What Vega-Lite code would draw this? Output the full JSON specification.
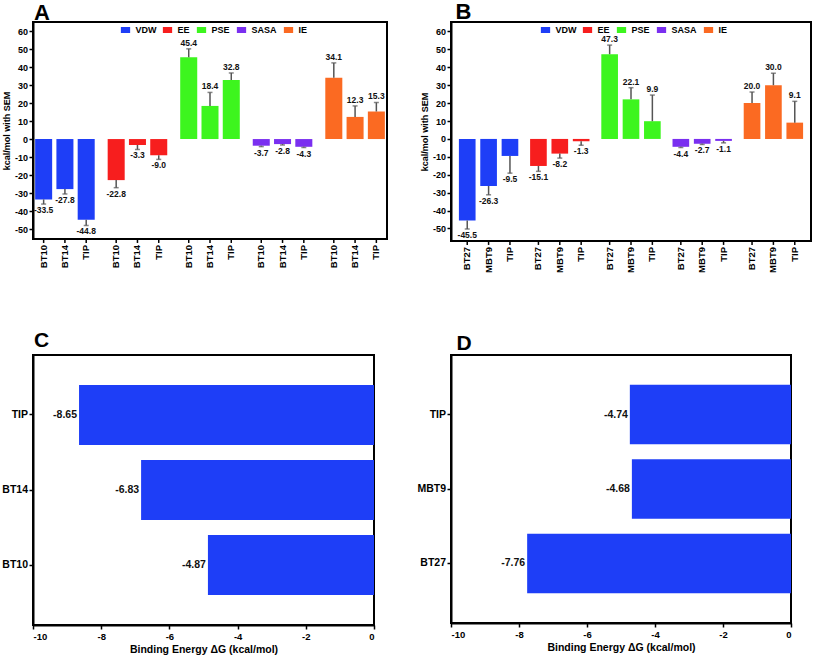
{
  "$schema": "https://vega.github.io/schema/vega-lite/v6.json",
  "padding": 0,
  "background": "white",
  "config": {
    "font": "Liberation Sans",
    "locale": {"number": {"decimal": ".", "thousands": ",", "grouping": [3], "currency": ["$", ""], "minus": "-"}},
    "view": {"stroke": "black", "strokeWidth": 2},
    "axis": {"grid": false, "domainColor": "black", "domainWidth": 2, "tickColor": "black", "tickWidth": 1.5, "tickSize": 4, "labelColor": "black", "titleColor": "black", "labelFontWeight": "bold", "titleFontWeight": "bold", "labelFont": "Liberation Sans", "titleFont": "Liberation Sans"},
    "title": {"font": "Liberation Sans", "fontWeight": "bold", "color": "black"}
  },
  "datasets": {
    "barsA": [
      {"term": "VDW", "ligand": "BT10", "value": -33.5, "errEnd": -36.1},
      {"term": "VDW", "ligand": "BT14", "value": -27.8, "errEnd": -30.5},
      {"term": "VDW", "ligand": "TIP", "value": -44.8, "errEnd": -48.0},
      {"term": "EE", "ligand": "BT10", "value": -22.8, "errEnd": -27.0},
      {"term": "EE", "ligand": "BT14", "value": -3.3, "errEnd": -5.8},
      {"term": "EE", "ligand": "TIP", "value": -9.0, "errEnd": -11.3},
      {"term": "PSE", "ligand": "BT10", "value": 45.4, "errEnd": 50.1},
      {"term": "PSE", "ligand": "BT14", "value": 18.4, "errEnd": 25.9},
      {"term": "PSE", "ligand": "TIP", "value": 32.8, "errEnd": 36.7},
      {"term": "SASA", "ligand": "BT10", "value": -3.7, "errEnd": -4.2},
      {"term": "SASA", "ligand": "BT14", "value": -2.8, "errEnd": -3.3},
      {"term": "SASA", "ligand": "TIP", "value": -4.3, "errEnd": -4.7},
      {"term": "IE", "ligand": "BT10", "value": 34.1, "errEnd": 42.3},
      {"term": "IE", "ligand": "BT14", "value": 12.3, "errEnd": 18.4},
      {"term": "IE", "ligand": "TIP", "value": 15.3, "errEnd": 20.3}
    ],
    "barsB": [
      {"term": "VDW", "ligand": "BT27", "value": -45.5, "errEnd": -50.3},
      {"term": "VDW", "ligand": "MBT9", "value": -26.3, "errEnd": -31.2},
      {"term": "VDW", "ligand": "TIP", "value": -9.5, "errEnd": -19.1},
      {"term": "EE", "ligand": "BT27", "value": -15.1, "errEnd": -18.1},
      {"term": "EE", "ligand": "MBT9", "value": -8.2, "errEnd": -10.7},
      {"term": "EE", "ligand": "TIP", "value": -1.3, "errEnd": -3.5},
      {"term": "PSE", "ligand": "BT27", "value": 47.3, "errEnd": 52.4},
      {"term": "PSE", "ligand": "MBT9", "value": 22.1, "errEnd": 28.6},
      {"term": "PSE", "ligand": "TIP", "value": 9.9, "errEnd": 24.5},
      {"term": "SASA", "ligand": "BT27", "value": -4.4, "errEnd": -4.8},
      {"term": "SASA", "ligand": "MBT9", "value": -2.7, "errEnd": -3.1},
      {"term": "SASA", "ligand": "TIP", "value": -1.1, "errEnd": -2.2},
      {"term": "IE", "ligand": "BT27", "value": 20.0, "errEnd": 26.2},
      {"term": "IE", "ligand": "MBT9", "value": 30.0, "errEnd": 36.7},
      {"term": "IE", "ligand": "TIP", "value": 9.1, "errEnd": 21.0}
    ],
    "dockC": [
      {"ligand": "TIP", "dG": -8.65},
      {"ligand": "BT14", "dG": -6.83},
      {"ligand": "BT10", "dG": -4.87}
    ],
    "dockD": [
      {"ligand": "TIP", "dG": -4.74},
      {"ligand": "MBT9", "dG": -4.68},
      {"ligand": "BT27", "dG": -7.76}
    ]
  },
  "concat": [
    {
      "width": 354,
      "height": 217,
      "title": {"text": "A", "anchor": "start", "frame": "group", "fontSize": 22, "offset": -19.5, "baseline": "alphabetic", "dx": 1},
      "data": {"name": "barsA"},
      "encoding": {
        "x": {"field": "term", "type": "nominal", "sort": ["VDW", "EE", "PSE", "SASA", "IE"], "scale": {"paddingInner": 0.12, "paddingOuter": 0}, "axis": null},
        "xOffset": {"field": "ligand", "type": "nominal", "sort": "ascending", "scale": {"paddingInner": 0.2, "paddingOuter": 0.1}}
      },
      "layer": [
        {
          "mark": {"type": "bar", "opacity": 1},
          "encoding": {
            "y": {"field": "value", "type": "quantitative", "scale": {"domain": [-55.5, 65], "nice": false, "zero": false}, "axis": {"values": [-50, -40, -30, -20, -10, 0, 10, 20, 30, 40, 50, 60], "title": "kcal/mol with SEM", "labelFontSize": 9, "titleFontSize": 9, "labelPadding": 1.5, "titlePadding": 3}},
            "color": {"field": "term", "type": "nominal", "scale": {"domain": ["VDW", "EE", "PSE", "SASA", "IE"], "range": ["#1e3ef7", "#f71e1e", "#3df51e", "#7a2ff0", "#fb6a22"]}, "legend": {"orient": "none", "legendX": 87.5, "legendY": 3, "direction": "horizontal", "title": null, "symbolType": "M-1,-0.65L1,-0.65L1,0.65L-1,0.65Z", "symbolSize": 86, "symbolStrokeWidth": 0, "labelFontSize": 9, "labelFontWeight": "bold", "labelColor": "black", "labelOffset": 5, "columnPadding": 6}}
          }
        },
        {
          "mark": {"type": "rule", "color": "#555555", "strokeWidth": 1.5},
          "encoding": {
            "y": {"field": "value", "type": "quantitative", "scale": {"domain": [-55.5, 65], "nice": false, "zero": false}, "axis": {"values": [-50, -40, -30, -20, -10, 0, 10, 20, 30, 40, 50, 60], "title": "kcal/mol with SEM", "labelFontSize": 9, "titleFontSize": 9, "labelPadding": 1.5, "titlePadding": 3}},
            "y2": {"field": "errEnd"}
          }
        },
        {
          "mark": {"type": "tick", "color": "#555555", "size": 5, "thickness": 1.5},
          "encoding": {
            "y": {"field": "errEnd", "type": "quantitative", "scale": {"domain": [-55.5, 65], "nice": false, "zero": false}, "axis": {"values": [-50, -40, -30, -20, -10, 0, 10, 20, 30, 40, 50, 60], "title": "kcal/mol with SEM", "labelFontSize": 9, "titleFontSize": 9, "labelPadding": 1.5, "titlePadding": 3}}
          }
        },
        {
          "transform": [{"filter": "datum.value > 0"}],
          "mark": {"type": "text", "baseline": "alphabetic", "dy": -3, "fontSize": 8.5, "fontWeight": "bold", "color": "#111111"},
          "encoding": {
            "y": {"field": "errEnd", "type": "quantitative", "scale": {"domain": [-55.5, 65], "nice": false, "zero": false}, "axis": {"values": [-50, -40, -30, -20, -10, 0, 10, 20, 30, 40, 50, 60], "title": "kcal/mol with SEM", "labelFontSize": 9, "titleFontSize": 9, "labelPadding": 1.5, "titlePadding": 3}},
            "text": {"field": "value", "type": "quantitative", "format": ".1f"}
          }
        },
        {
          "transform": [{"filter": "datum.value < 0"}],
          "mark": {"type": "text", "baseline": "top", "dy": 2, "fontSize": 8.5, "fontWeight": "bold", "color": "#111111"},
          "encoding": {
            "y": {"field": "errEnd", "type": "quantitative", "scale": {"domain": [-55.5, 65], "nice": false, "zero": false}, "axis": {"values": [-50, -40, -30, -20, -10, 0, 10, 20, 30, 40, 50, 60], "title": "kcal/mol with SEM", "labelFontSize": 9, "titleFontSize": 9, "labelPadding": 1.5, "titlePadding": 3}},
            "text": {"field": "value", "type": "quantitative", "format": ".1f"}
          }
        },
        {
          "mark": {"type": "rule", "color": "black", "strokeWidth": 1.5},
          "encoding": {
            "y": {"datum": -55.5, "type": "quantitative", "scale": {"domain": [-55.5, 65], "nice": false, "zero": false}, "axis": {"values": [-50, -40, -30, -20, -10, 0, 10, 20, 30, 40, 50, 60], "title": "kcal/mol with SEM", "labelFontSize": 9, "titleFontSize": 9, "labelPadding": 1.5, "titlePadding": 3}},
            "y2": {"datum": -57.7}
          }
        },
        {
          "mark": {"type": "text", "angle": 270, "align": "right", "baseline": "middle", "dx": -6, "fontSize": 9.5, "fontWeight": "bold", "color": "black"},
          "encoding": {
            "y": {"datum": -55.5, "type": "quantitative", "scale": {"domain": [-55.5, 65], "nice": false, "zero": false}, "axis": {"values": [-50, -40, -30, -20, -10, 0, 10, 20, 30, 40, 50, 60], "title": "kcal/mol with SEM", "labelFontSize": 9, "titleFontSize": 9, "labelPadding": 1.5, "titlePadding": 3}},
            "text": {"field": "ligand", "type": "nominal"}
          }
        },
        {
          "mark": {"type": "rule", "color": "black", "strokeWidth": 2},
          "encoding": {
            "x": {"value": 0},
            "x2": {"value": {"expr": "width"}},
            "xOffset": null,
            "y": {"datum": 0, "type": "quantitative", "scale": {"domain": [-55.5, 65], "nice": false, "zero": false}, "axis": {"values": [-50, -40, -30, -20, -10, 0, 10, 20, 30, 40, 50, 60], "title": "kcal/mol with SEM", "labelFontSize": 9, "titleFontSize": 9, "labelPadding": 1.5, "titlePadding": 3}}
          }
        }
      ]
    },
    {
      "width": 360,
      "height": 219,
      "title": {"text": "B", "anchor": "start", "frame": "group", "fontSize": 22, "offset": -19, "baseline": "alphabetic", "dx": 4.5},
      "data": {"name": "barsB"},
      "encoding": {
        "x": {"field": "term", "type": "nominal", "sort": ["VDW", "EE", "PSE", "SASA", "IE"], "scale": {"paddingInner": 0.1, "paddingOuter": 0.078}, "axis": null},
        "xOffset": {"field": "ligand", "type": "nominal", "sort": "ascending", "scale": {"paddingInner": 0.22, "paddingOuter": 0.11}}
      },
      "layer": [
        {
          "mark": {"type": "bar", "opacity": 1},
          "encoding": {
            "y": {"field": "value", "type": "quantitative", "scale": {"domain": [-57, 65.3], "nice": false, "zero": false}, "axis": {"values": [-50, -40, -30, -20, -10, 0, 10, 20, 30, 40, 50, 60], "title": "kcal/mol with SEM", "labelFontSize": 9, "titleFontSize": 9, "labelPadding": 1.5, "titlePadding": 3}},
            "color": {"field": "term", "type": "nominal", "scale": {"domain": ["VDW", "EE", "PSE", "SASA", "IE"], "range": ["#1e3ef7", "#f71e1e", "#3df51e", "#7a2ff0", "#fb6a22"]}, "legend": {"orient": "none", "legendX": 89.5, "legendY": 3, "direction": "horizontal", "title": null, "symbolType": "M-1,-0.65L1,-0.65L1,0.65L-1,0.65Z", "symbolSize": 86, "symbolStrokeWidth": 0, "labelFontSize": 9, "labelFontWeight": "bold", "labelColor": "black", "labelOffset": 5, "columnPadding": 6}}
          }
        },
        {
          "mark": {"type": "rule", "color": "#555555", "strokeWidth": 1.5},
          "encoding": {
            "y": {"field": "value", "type": "quantitative", "scale": {"domain": [-57, 65.3], "nice": false, "zero": false}, "axis": {"values": [-50, -40, -30, -20, -10, 0, 10, 20, 30, 40, 50, 60], "title": "kcal/mol with SEM", "labelFontSize": 9, "titleFontSize": 9, "labelPadding": 1.5, "titlePadding": 3}},
            "y2": {"field": "errEnd"}
          }
        },
        {
          "mark": {"type": "tick", "color": "#555555", "size": 5, "thickness": 1.5},
          "encoding": {
            "y": {"field": "errEnd", "type": "quantitative", "scale": {"domain": [-57, 65.3], "nice": false, "zero": false}, "axis": {"values": [-50, -40, -30, -20, -10, 0, 10, 20, 30, 40, 50, 60], "title": "kcal/mol with SEM", "labelFontSize": 9, "titleFontSize": 9, "labelPadding": 1.5, "titlePadding": 3}}
          }
        },
        {
          "transform": [{"filter": "datum.value > 0"}],
          "mark": {"type": "text", "baseline": "alphabetic", "dy": -3, "fontSize": 8.5, "fontWeight": "bold", "color": "#111111"},
          "encoding": {
            "y": {"field": "errEnd", "type": "quantitative", "scale": {"domain": [-57, 65.3], "nice": false, "zero": false}, "axis": {"values": [-50, -40, -30, -20, -10, 0, 10, 20, 30, 40, 50, 60], "title": "kcal/mol with SEM", "labelFontSize": 9, "titleFontSize": 9, "labelPadding": 1.5, "titlePadding": 3}},
            "text": {"field": "value", "type": "quantitative", "format": ".1f"}
          }
        },
        {
          "transform": [{"filter": "datum.value < 0"}],
          "mark": {"type": "text", "baseline": "top", "dy": 2, "fontSize": 8.5, "fontWeight": "bold", "color": "#111111"},
          "encoding": {
            "y": {"field": "errEnd", "type": "quantitative", "scale": {"domain": [-57, 65.3], "nice": false, "zero": false}, "axis": {"values": [-50, -40, -30, -20, -10, 0, 10, 20, 30, 40, 50, 60], "title": "kcal/mol with SEM", "labelFontSize": 9, "titleFontSize": 9, "labelPadding": 1.5, "titlePadding": 3}},
            "text": {"field": "value", "type": "quantitative", "format": ".1f"}
          }
        },
        {
          "mark": {"type": "rule", "color": "black", "strokeWidth": 1.5},
          "encoding": {
            "y": {"datum": -57, "type": "quantitative", "scale": {"domain": [-57, 65.3], "nice": false, "zero": false}, "axis": {"values": [-50, -40, -30, -20, -10, 0, 10, 20, 30, 40, 50, 60], "title": "kcal/mol with SEM", "labelFontSize": 9, "titleFontSize": 9, "labelPadding": 1.5, "titlePadding": 3}},
            "y2": {"datum": -59.2}
          }
        },
        {
          "mark": {"type": "text", "angle": 270, "align": "right", "baseline": "middle", "dx": -6, "fontSize": 9.5, "fontWeight": "bold", "color": "black"},
          "encoding": {
            "y": {"datum": -57, "type": "quantitative", "scale": {"domain": [-57, 65.3], "nice": false, "zero": false}, "axis": {"values": [-50, -40, -30, -20, -10, 0, 10, 20, 30, 40, 50, 60], "title": "kcal/mol with SEM", "labelFontSize": 9, "titleFontSize": 9, "labelPadding": 1.5, "titlePadding": 3}},
            "text": {"field": "ligand", "type": "nominal"}
          }
        },
        {
          "mark": {"type": "rule", "color": "black", "strokeWidth": 2},
          "encoding": {
            "x": {"value": 0},
            "x2": {"value": {"expr": "width"}},
            "xOffset": null,
            "y": {"datum": 0, "type": "quantitative", "scale": {"domain": [-57, 65.3], "nice": false, "zero": false}, "axis": {"values": [-50, -40, -30, -20, -10, 0, 10, 20, 30, 40, 50, 60], "title": "kcal/mol with SEM", "labelFontSize": 9, "titleFontSize": 9, "labelPadding": 1.5, "titlePadding": 3}}
          }
        }
      ]
    },
    {
      "width": 341,
      "height": 270,
      "title": {"text": "C", "anchor": "start", "frame": "group", "fontSize": 21, "offset": -12.5, "baseline": "alphabetic", "dx": 1},
      "data": {"name": "dockC"},
      "encoding": {
        "y": {"field": "ligand", "type": "nominal", "sort": ["TIP", "BT14", "BT10"], "scale": {"paddingInner": 0.2, "paddingOuter": 0.4}, "axis": {"title": null, "labelFontSize": 10.5, "labelPadding": 1.5}},
        "x": {"field": "dG", "type": "quantitative", "scale": {"domain": [-10, 0], "nice": false}, "axis": {"values": [-10, -8, -6, -4, -2, 0], "title": "Binding Energy ΔG (kcal/mol)", "labelFontSize": 9.5, "titleFontSize": 10.5, "labelPadding": 2, "titlePadding": 4}}
      },
      "layer": [
        {"mark": {"type": "bar", "color": "#1e3ef7", "opacity": 1}},
        {"mark": {"type": "text", "align": "right", "baseline": "middle", "dx": -2, "fontSize": 10.5, "fontWeight": "bold", "color": "#111111"}, "encoding": {"text": {"field": "dG", "type": "quantitative", "format": ".2f"}}}
      ]
    },
    {
      "width": 340,
      "height": 268,
      "title": {"text": "D", "anchor": "start", "frame": "group", "fontSize": 21, "offset": -15.5, "baseline": "alphabetic", "dx": 5.5},
      "data": {"name": "dockD"},
      "encoding": {
        "y": {"field": "ligand", "type": "nominal", "sort": ["TIP", "MBT9", "BT27"], "scale": {"paddingInner": 0.2, "paddingOuter": 0.4}, "axis": {"title": null, "labelFontSize": 10.5, "labelPadding": 1.5}},
        "x": {"field": "dG", "type": "quantitative", "scale": {"domain": [-10, 0], "nice": false}, "axis": {"values": [-10, -8, -6, -4, -2, 0], "title": "Binding Energy ΔG (kcal/mol)", "labelFontSize": 9.5, "titleFontSize": 10.5, "labelPadding": 2, "titlePadding": 4}}
      },
      "layer": [
        {"mark": {"type": "bar", "color": "#1e3ef7", "opacity": 1}},
        {"mark": {"type": "text", "align": "right", "baseline": "middle", "dx": -2, "fontSize": 10.5, "fontWeight": "bold", "color": "#111111"}, "encoding": {"text": {"field": "dG", "type": "quantitative", "format": ".2f"}}}
      ]
    }
  ],
  "columns": 2,
  "spacing": {"column": 64, "row": 114},
  "bounds": "flush",
  "align": "each",
  "resolve": {"legend": {"color": "independent"}, "scale": {"xOffset": "independent"}}
}
